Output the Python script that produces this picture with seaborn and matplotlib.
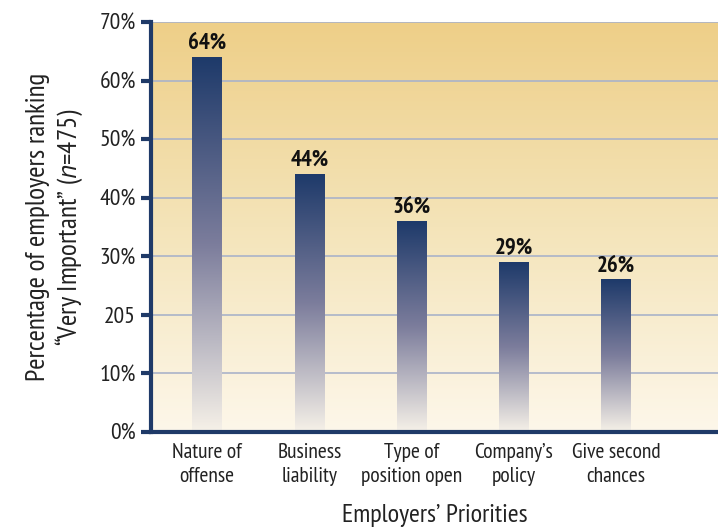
import numpy as np
import pandas as pd
import matplotlib
matplotlib.use('Agg')
import matplotlib.pyplot as plt
import seaborn as sns
from matplotlib.colors import LinearSegmentedColormap

# --- data ---
categories = ['Nature of\noffense', 'Business\nliability', 'Type of\nposition open',
              "Company\u2019s\npolicy", 'Give second\nchances']
values = [64, 44, 36, 29, 26]
yticks = [0, 10, 20, 30, 40, 50, 60, 70]
ytick_labels = ['0%', '10%', '205', '30%', '40%', '50%', '60%', '70%']

FONT = 'PT Sans Narrow'
sns.set_style('white')
plt.rcParams['font.family'] = [FONT, 'DejaVu Sans']
plt.rcParams['mathtext.fontset'] = 'custom'
plt.rcParams['mathtext.it'] = 'PT Sans:italic'
plt.rcParams['mathtext.rm'] = FONT

df = pd.DataFrame({'cat': categories, 'val': values})

fig = plt.figure(figsize=(7.18, 5.29), dpi=100)
ax = fig.add_axes([0.2103, 0.1834, 0.7897, 0.7750])

sns.barplot(data=df, x='cat', y='val', ax=ax, width=0.29, color='#1f3a68')

XL = (-0.55, 5.0)

# background gradient
bg = LinearSegmentedColormap.from_list('bg', ['#fdf7ea', '#f4e4b9', '#eecf88'])
ax.imshow(np.linspace(0, 1, 256).reshape(-1, 1), cmap=bg, origin='lower',
          extent=[XL[0], XL[1], 0, 70], aspect='auto', zorder=0)

ax.set_yticks(yticks)
ax.set_yticklabels(ytick_labels)
ax.yaxis.grid(True, color='#aab3c9', linewidth=1.2, zorder=1)
ax.set_axisbelow(True)

# bar gradients
barcm = LinearSegmentedColormap.from_list('bar', ['#f6f1e8', '#7c7d9c', '#1e3a6a'])
for p in ax.patches:
    x0, y0 = p.get_x(), p.get_y()
    w, h = p.get_width(), p.get_height()
    ax.imshow(np.linspace(0, 1, 256).reshape(-1, 1), cmap=barcm, origin='lower',
              extent=[x0, x0 + w, y0, y0 + h], aspect='auto', zorder=2)
    p.set_facecolor('none')
    p.set_edgecolor('none')
    ax.text(x0 + w / 2, h + 0.6, f'{int(round(h))}%', ha='center', va='bottom',
            fontsize=16.5, fontweight='bold', color='#111111', zorder=4)

ax.set_xlim(*XL)
ax.set_ylim(0, 70)

for s in ['top', 'right']:
    ax.spines[s].set_visible(False)
for s in ['left', 'bottom']:
    ax.spines[s].set_color('#1f3a68')
    ax.spines[s].set_linewidth(3)
    ax.spines[s].set_zorder(5)

ax.tick_params(axis='y', length=7, width=3, color='#1f3a68', labelsize=17,
               pad=4, left=True, labelcolor='#222222')
ax.tick_params(axis='x', length=0, labelsize=15.5, pad=8, labelcolor='#222222')
for t in ax.get_xticklabels():
    t.set_linespacing(1.35)

ax.set_xlabel('Employers\u2019 Priorities', fontsize=19, labelpad=13, color='#222222')
ax.set_ylabel('Percentage of employers ranking\n\u201cVery Important\u201d ($\\mathit{n}$=475)',
              fontsize=19.5, labelpad=10, color='#222222', linespacing=1.2)

fig.savefig('out.png', dpi=100)
